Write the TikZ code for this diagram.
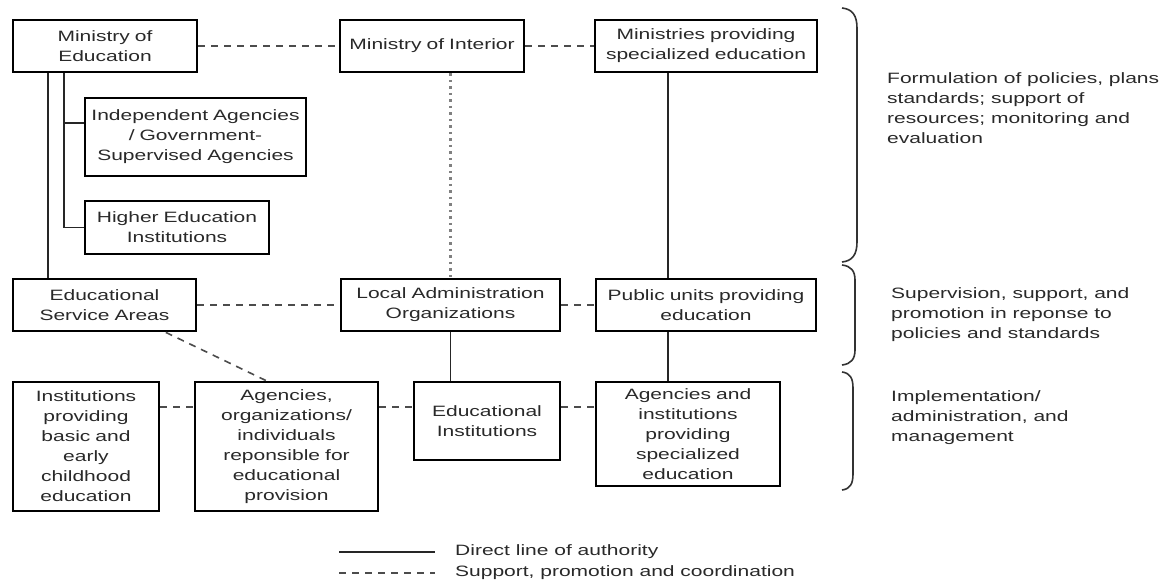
\documentclass[tikz,border=0pt]{standalone}
\usepackage{fontspec}
\setmainfont{Liberation Sans}[FakeStretch=1.4]
\usetikzlibrary{calc}
\definecolor{txt}{rgb}{0.16,0.16,0.16}
\begin{document}
\begin{tikzpicture}[x=1pt,y=-1pt,
  bx/.style={draw=black, line width=2.8pt, inner sep=0pt, align=center, text=txt, font=\fontsize{15}{20}\selectfont},
  solidln/.style={draw=black!85, line width=1.9pt},
  dashln/.style={draw=black!70, line width=1.6pt, dash pattern=on 7pt off 6pt},
  dotln/.style={draw=black!50, line width=2.6pt, dash pattern=on 2.5pt off 4pt},
  brk/.style={draw=black!80, line width=1.6pt},
  note/.style={anchor=west, align=left, inner sep=0pt, text=txt, font=\fontsize{15}{20}\selectfont}]
\useasboundingbox (0,0) rectangle (1170,584);

% level 1
\node[bx, minimum width=184, minimum height=52, text width=178] (moe) at (105,46) {Ministry of\\Education};
\node[bx, minimum width=184, minimum height=52, text width=178] (moi) at (432,46) {Ministry of Interior};
\node[bx, minimum width=222, minimum height=52, text width=216] (mps) at (706,46) {Ministries providing\\specialized education};
\node[bx, minimum width=221, minimum height=78, text width=217] (ia) at (195.5,137) {Independent Agencies\\/ Government-\\Supervised Agencies};
\node[bx, minimum width=184, minimum height=53, text width=178] (he) at (177,227.5) {Higher Education\\Institutions};

% level 2
\node[bx, minimum width=183, minimum height=52, text width=177] (esa) at (104.5,305) {Educational\\Service Areas};
\node[bx, minimum width=219, minimum height=52, text width=213] (lao) at (450.5,305) {Local Administration\\Organizations};
\node[bx, minimum width=220, minimum height=52, text width=214] (pu) at (706,305) {Public units providing\\education};

% level 3
\node[bx, minimum width=146, minimum height=129, text width=140] (ib) at (86,446.5) {Institutions\\providing\\basic and\\early\\childhood\\education};
\node[bx, minimum width=183, minimum height=129, text width=177] (ao) at (286.5,446.5) {Agencies,\\organizations/\\individuals\\reponsible for\\educational\\provision};
\node[bx, minimum width=146, minimum height=78, text width=140] (ei) at (487,421) {Educational\\Institutions};
\node[bx, minimum width=184, minimum height=104, text width=178] (ai) at (688,434) {Agencies and\\institutions\\providing\\specialized\\education};

% helper coordinates
\coordinate (la) at (48,0);
\coordinate (lb) at (64,0);
\coordinate (lc) at (668,0);
\coordinate (iaj) at (0,123);
\coordinate (r3) at (0,407);

% solid lines of authority
\draw[solidln] (la |- moe.south) -- (la |- esa.north);
\draw[solidln] (lb |- moe.south) -- (lb |- he.west) -- (he.west);
\draw[solidln] (lb |- iaj) -- (ia.west |- iaj);
\draw[solidln] (lc |- mps.south) -- (lc |- pu.north);
\draw[solidln] (lc |- pu.south) -- (lc |- ai.north);
\draw[solidln] (lao.south) -- (lao.south |- ei.north);

% dashed support lines
\draw[dashln] (moe.east) -- (moi.west);
\draw[dashln] (moi.east) -- (mps.west);
\draw[dashln] (esa.east) -- (lao.west);
\draw[dashln] (lao.east) -- (pu.west);
\draw[dashln] (ib.east |- r3) -- (ao.west |- r3);
\draw[dashln] (ao.east |- r3) -- (ei.west |- r3);
\draw[dashln] (ei.east |- r3) -- (ai.west |- r3);
\draw[dashln] ($(esa.south west)!0.83!(esa.south east)$) -- ($(ao.north west)!0.39!(ao.north east)$);

% dotted line
\draw[dotln] (lao.north |- moi.south) -- (lao.north);

% brackets
\draw[brk] (842,8) .. controls (852,9) and (857,15) .. (857,28) -- (857,242) .. controls (857,255) and (852,261) .. (842,262);
\draw[brk] (842,265) .. controls (851,266) and (855,271) .. (855,280) -- (855,350) .. controls (855,359) and (851,364) .. (842,365);
\draw[brk] (842,372) .. controls (850,373) and (853,378) .. (853,388) -- (853,474) .. controls (853,484) and (850,489) .. (842,490);

% notes
\node[note] (n1) at (887,108.5) {Formulation of policies, plans\\standards; support of\\resources; monitoring and\\evaluation};
\node[note] (n2) at (891,315) {Supervision, support, and\\promotion in reponse to\\policies and standards};
\node[note] (n3) at (891,418) {Implementation/\\administration, and\\management};

% legend
\coordinate (l1a) at (339,552);
\coordinate (l1b) at (435,552);
\coordinate (l2a) at (339,573);
\coordinate (l2b) at (435,573);
\draw[solidln] (l1a) -- (l1b);
\draw[dashln] (l2a) -- (l2b);
\node[note] (leg1) at (455,552) {Direct line of authority};
\node[note] (leg2) at (455,573) {Support, promotion and coordination};
\end{tikzpicture}
\end{document}
